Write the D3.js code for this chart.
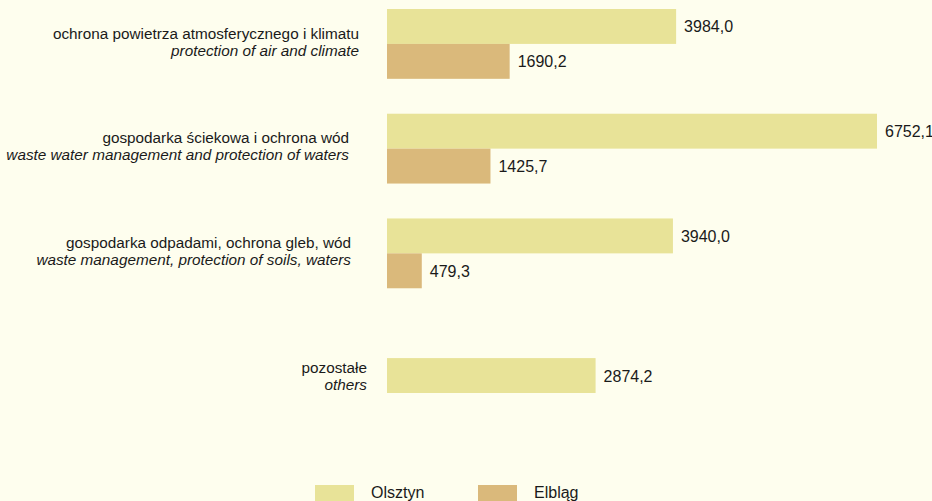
<!DOCTYPE html>
<html>
<head>
<meta charset="utf-8">
<script src="https://cdn.jsdelivr.net/npm/d3@7/dist/d3.min.js"></script>
<style>
  html, body { margin: 0; padding: 0; background: #FEFEEE; }
  svg { display: block; }
  text { font-family: "Liberation Sans", Arial, sans-serif; fill: #1a1a1a; }
</style>
</head>
<body>
<svg id="chart" width="932" height="501"></svg>
<script>
// ---- data ----
const categoriesPL = [
  "ochrona powietrza atmosferycznego i klimatu",
  "gospodarka ściekowa i ochrona wód",
  "gospodarka odpadami, ochrona gleb, wód",
  "pozostałe"
];
const categoriesEN = [
  "protection of air and climate",
  "waste water management and protection of waters",
  "waste management, protection of soils, waters",
  "others"
];
const seriesNames = ["Olsztyn", "Elbląg"];
const olsztynValues = [3984.0, 6752.1, 3940.0, 2874.2];
const elblagValues = [1690.2, 1425.7, 479.3, null];

// ---- layout / style ----
const W = 932, H = 501;
const colors = { "Olsztyn": "#E8E398", "Elbląg": "#DAB97B" };
const labelRight = [359, 349, 351, 367];
const labelShift = [0, -1, 0, 20];

const svg = d3.select("#chart");
svg.append("rect").attr("width", W).attr("height", H).attr("fill", "#FEFEEE");

const x = d3.scaleLinear().domain([0, 7000]).range([387, 895]);
const y = d3.scaleBand().domain(d3.range(categoriesPL.length)).range([9, 393])
  .paddingInner(1/3).paddingOuter(0);
const ySub = d3.scaleBand().domain(seriesNames).range([0, y.bandwidth()]);

const fmt = v => d3.format(".1f")(v).replace(".", ",");

const bars = [];
categoriesPL.forEach((c, i) => {
  const vals = { "Olsztyn": olsztynValues[i], "Elbląg": elblagValues[i] };
  const present = seriesNames.filter(s => vals[s] != null);
  present.forEach(s => {
    // when a series is missing, the remaining bar sits in the lower slot
    const slot = present.length === 1 ? seriesNames[1] : s;
    bars.push({ i, s, v: vals[s], y0: y(i) + ySub(slot) });
  });
});

const g = svg.append("g");
g.selectAll("rect.bar").data(bars).join("rect")
  .attr("class", "bar")
  .attr("x", x(0))
  .attr("y", d => d.y0)
  .attr("width", d => x(d.v) - x(0))
  .attr("height", ySub.bandwidth())
  .attr("fill", d => colors[d.s]);

g.selectAll("text.val").data(bars).join("text")
  .attr("class", "val")
  .attr("x", d => x(d.v) + 8)
  .attr("y", d => d.y0 + ySub.bandwidth() / 2 + 6)
  .attr("font-size", "16px")
  .text(d => fmt(d.v));

// category labels
const lab = svg.append("g");
categoriesPL.forEach((c, i) => {
  const cy = y(i) + y.bandwidth() / 2 + labelShift[i];
  lab.append("text")
    .attr("x", labelRight[i]).attr("y", cy - 5)
    .attr("text-anchor", "end").attr("font-size", "15.3px")
    .text(c);
  lab.append("text")
    .attr("x", labelRight[i]).attr("y", cy + 12)
    .attr("text-anchor", "end").attr("font-size", "15.3px")
    .attr("font-style", "italic")
    .text(categoriesEN[i]);
});

// legend
const legX = d3.scalePoint().domain(seriesNames).range([315, 478]);
const leg = svg.append("g");
seriesNames.forEach(s => {
  leg.append("rect").attr("x", legX(s)).attr("y", 485)
    .attr("width", 39).attr("height", 16).attr("fill", colors[s]);
  leg.append("text").attr("x", legX(s) + 56).attr("y", 498)
    .attr("font-size", "16px").text(s);
});
</script>
</body>
</html>
